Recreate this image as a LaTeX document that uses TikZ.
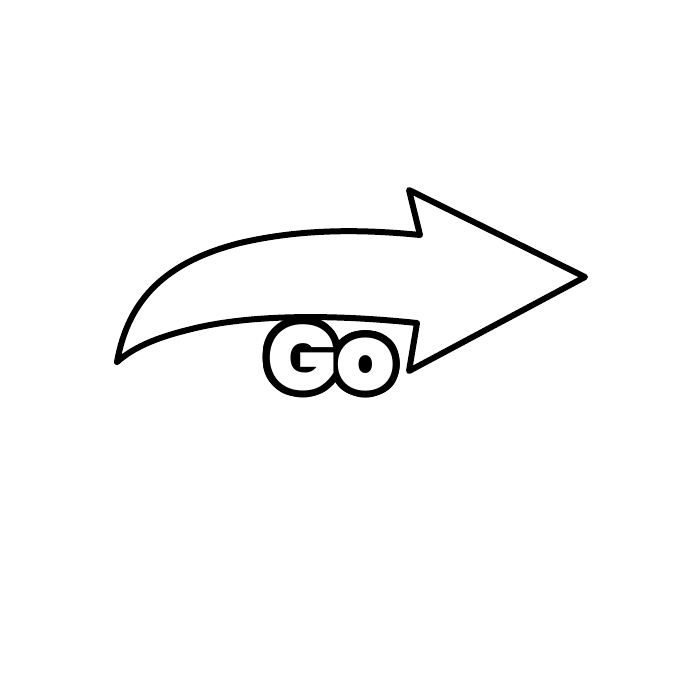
\documentclass[tikz,border=0pt]{standalone}
\usepackage{fontspec}
\usepackage{contour}
\newfontfamily\gofont{Poppins Black}
\contourlength{7pt}
\contournumber{40}
\begin{document}
\begin{tikzpicture}[x=1pt,y=-1pt]
\tikzset{arrowline/.style={draw=black, fill=white, line width=6pt, line join=round, line cap=round},
  golabel/.style={font=\gofont\fontsize{92}{92}\selectfont, text=white, inner sep=0pt}}
\useasboundingbox (0,0) rectangle (700,700);
\draw[arrowline] (117,362) .. controls (128,300) and (165,262) .. (240,243)
  .. controls (300,229) and (360,229) .. (420,235)
  -- (409,190) -- (585,277) -- (409,371) -- (417,323)
  .. controls (340,315) and (260,314) .. (200,327)
  .. controls (160,336) and (135,346) .. cycle;
\node[golabel] (go) at (331,361) {\contour{black}{Go}};
\end{tikzpicture}
\end{document}
